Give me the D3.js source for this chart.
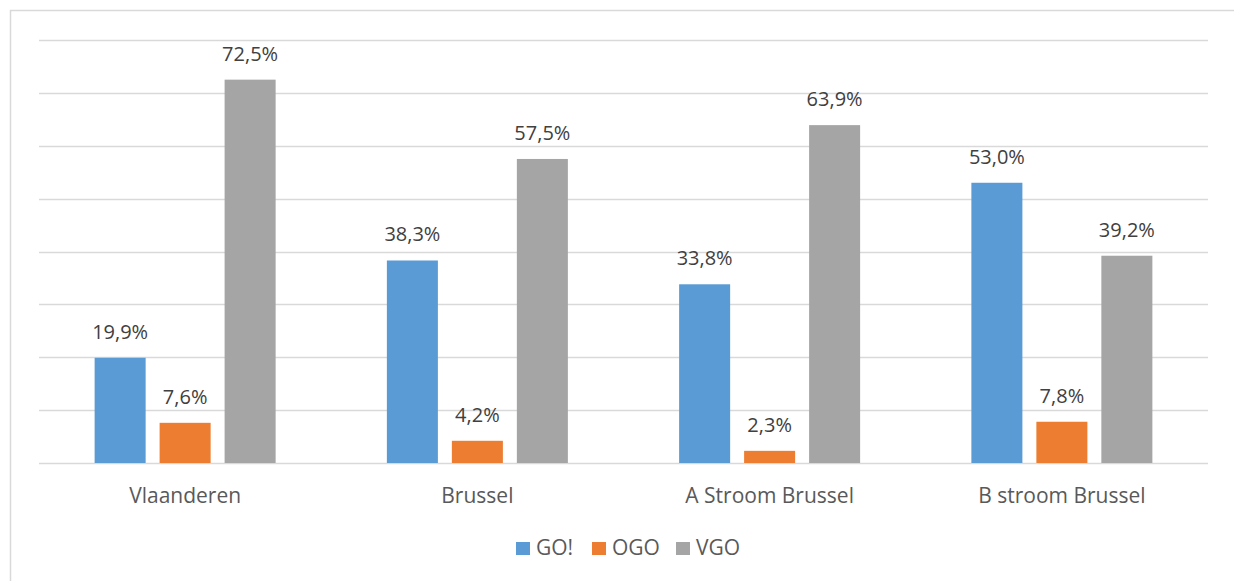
<!DOCTYPE html>
<html>
<head>
<meta charset="utf-8">
<script src="https://cdn.jsdelivr.net/npm/d3@7"></script>
<style>
  body { margin: 0; background: #fff; }
  text { font-family: "Open Sans", Lato, sans-serif; }
</style>
</head>
<body>
<svg width="1234" height="581"></svg>
<script>
const categories = ['Vlaanderen', 'Brussel', 'A Stroom Brussel', 'B stroom Brussel']
const seriesNames = ['GO!', 'OGO', 'VGO']
const goValues = [19.9, 38.3, 33.8, 53.0]
const ogoValues = [7.6, 4.2, 2.3, 7.8]
const vgoValues = [72.5, 57.5, 63.9, 39.2]
const yTicks = [0, 10, 20, 30, 40, 50, 60, 70, 80]
const colors = ['#5b9bd5', '#ed7d31', '#a5a5a5']

const seriesValues = [goValues, ogoValues, vgoValues]
const rows = categories.map((c, i) => ({
  category: c,
  values: seriesNames.map((s, j) => ({ series: s, value: seriesValues[j][i] }))
}))

const svg = d3.select('svg')
const margin = { top: 40, right: 26, bottom: 118, left: 39 }
const width = +svg.attr('width') - margin.left - margin.right
const height = +svg.attr('height') - margin.top - margin.bottom

// chart border
svg.append('rect')
  .attr('x', 10.5)
  .attr('y', 10.5)
  .attr('width', 1240)
  .attr('height', 600)
  .attr('fill', 'none')
  .attr('stroke', '#d9d9d9')
  .attr('stroke-width', 1.5)

const g = svg.append('g')
  .attr('transform', `translate(${margin.left},${margin.top})`)

const x0 = d3.scaleBand()
  .domain(categories)
  .range([0, width])

const x1 = d3.scaleBand()
  .domain(seriesNames)
  .range([0, 181])
  .paddingInner(0.215)

const y = d3.scaleLinear()
  .domain([0, 80])
  .range([height, 0])

const color = d3.scaleOrdinal()
  .domain(seriesNames)
  .range(colors)

// gridlines
g.selectAll('.grid')
  .data(yTicks)
  .enter().append('line')
  .attr('class', 'grid')
  .attr('x1', 0)
  .attr('x2', width)
  .attr('y1', d => Math.round(y(d)) + 0.5)
  .attr('y2', d => Math.round(y(d)) + 0.5)
  .attr('stroke', '#d9d9d9')
  .attr('stroke-width', 1.5)

const groups = g.selectAll('.group')
  .data(rows)
  .enter().append('g')
  .attr('class', 'group')
  .attr('transform', d => `translate(${x0(d.category) + x0.bandwidth() / 2 - 90.5},0)`)

groups.selectAll('rect')
  .data(d => d.values)
  .enter().append('rect')
  .attr('x', d => x1(d.series))
  .attr('width', x1.bandwidth())
  .attr('y', d => y(d.value))
  .attr('height', d => y(0) - y(d.value))
  .attr('fill', d => color(d.series))

groups.selectAll('.label')
  .data(d => d.values)
  .enter().append('text')
  .attr('class', 'label')
  .attr('x', d => x1(d.series) + x1.bandwidth() / 2)
  .attr('y', d => y(d.value) - 19)
  .attr('text-anchor', 'middle')
  .attr('font-size', 20)
  .attr('fill', '#404040')
  .text(d => d.value.toFixed(1).replace('.', ',') + '%')

// category axis labels
g.selectAll('.cat')
  .data(categories)
  .enter().append('text')
  .attr('class', 'cat')
  .attr('x', d => x0(d) + x0.bandwidth() / 2)
  .attr('y', height + 40)
  .attr('text-anchor', 'middle')
  .attr('font-size', 21)
  .attr('fill', '#595959')
  .text(d => d)

// legend
const legendX = [516, 592, 676]
const legend = svg.selectAll('.legend')
  .data(seriesNames)
  .enter().append('g')
  .attr('class', 'legend')
  .attr('transform', (d, i) => `translate(${legendX[i]},542)`)

legend.append('rect')
  .attr('width', 14)
  .attr('height', 13)
  .attr('fill', d => color(d))

legend.append('text')
  .attr('x', 20)
  .attr('y', 13)
  .attr('font-size', 21)
  .attr('fill', '#595959')
  .text(d => d)
</script>
</body>
</html>
